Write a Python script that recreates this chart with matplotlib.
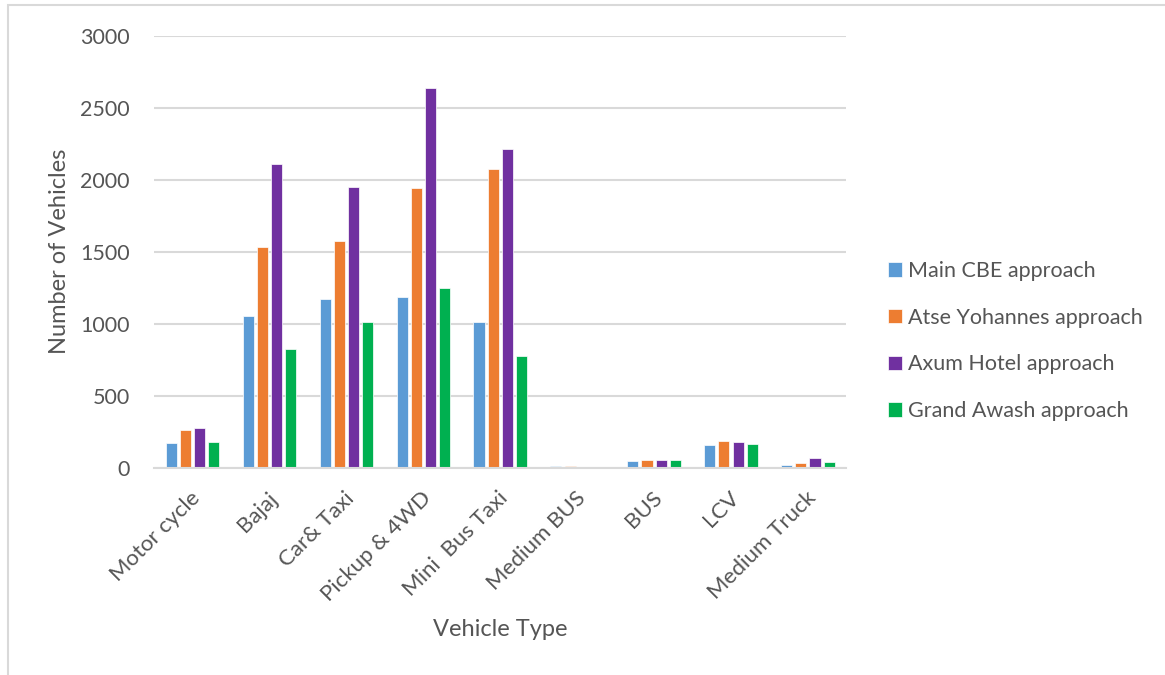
import matplotlib
matplotlib.use("Agg")
import matplotlib.pyplot as plt
import matplotlib.transforms as mtransforms
import numpy as np

categories = ["Motor cycle", "Bajaj", "Car& Taxi", "Pickup & 4WD", "Mini  Bus Taxi",
              "Medium BUS", "BUS", "LCV", "Medium Truck"]
series_names = ["Main CBE approach", "Atse Yohannes approach",
                "Axum Hotel approach", "Grand Awash approach"]
main_cbe = [173, 1055, 1175, 1185, 1013, 12, 46, 160, 23]
atse_yohannes = [264, 1532, 1573, 1943, 2077, 12, 53, 190, 37]
axum_hotel = [278, 2108, 1952, 2637, 2212, 9, 55, 178, 69]
grand_awash = [180, 826, 1011, 1249, 780, 9, 53, 164, 42]
y_ticks = [0, 500, 1000, 1500, 2000, 2500, 3000]

colors = ["#5B9BD5", "#ED7D31", "#7030A0", "#00B050"]
text_color = "#555555"
grid_color = "#D9D9D9"

plt.rcParams["font.family"] = ["Lato", "DejaVu Sans"]
fs = 15.5

fig = plt.figure(figsize=(11.65, 6.75), dpi=100)
ax = fig.add_axes([0.1318, 0.3067, 0.5948, 0.64])

x = np.arange(len(categories))
step = 0.182
width = 0.143
all_series = [main_cbe, atse_yohannes, axum_hotel, grand_awash]
for i, (name, vals) in enumerate(zip(series_names, all_series)):
    ax.bar(x + (i - 1.5) * step, vals, width=width, color=colors[i],
           edgecolor="white", linewidth=0.5, label=name, zorder=3)

ax.set_xlim(-0.5, len(categories) - 0.5)
ax.set_ylim(0, 3000)
ax.set_yticks(y_ticks)
ax.set_yticklabels([str(v) for v in y_ticks], fontsize=fs, color=text_color)
ax.yaxis.grid(True, color=grid_color, linewidth=1.5, zorder=0)
ax.tick_params(axis="y", length=0, pad=17)
ax.tick_params(axis="x", length=0)

for s in ["top", "right", "left"]:
    ax.spines[s].set_visible(False)
ax.spines["bottom"].set_color(grid_color)
ax.spines["bottom"].set_linewidth(1.5)
ax.spines["bottom"].set_zorder(4)

ax.set_xticks(x)
ax.set_xticklabels([])
offset = mtransforms.ScaledTranslation(0.05, -0.27, fig.dpi_scale_trans)
for xi, lab in zip(x, categories):
    ax.text(xi, 0, lab, rotation=45, ha="right", va="center",
            rotation_mode="anchor", fontsize=16, color=text_color,
            transform=ax.transData + offset, clip_on=False)

fig.text(60 / 1165, 1 - 251 / 675, "Number of Vehicles", rotation=90,
         ha="center", va="center", fontsize=17, color=text_color)
fig.text(500 / 1165, 1 - 630 / 675, "Vehicle Type",
         ha="center", va="center", fontsize=17, color=text_color)

handles, labels = ax.get_legend_handles_labels()
leg = fig.legend(handles, labels, loc="center left",
                 bbox_to_anchor=(888 / 1165, 1 - 341 / 675), frameon=False,
                 borderpad=0, borderaxespad=0,
                 fontsize=fs, labelcolor=text_color, handlelength=0.65,
                 handleheight=0.65, handletextpad=0.3, labelspacing=1.24)

border = plt.Rectangle((8 / 1165, -0.01), 1.2, 1 - 5 / 675 + 0.01,
                       transform=fig.transFigure, fill=False,
                       edgecolor=grid_color, linewidth=1.5)
fig.add_artist(border)

fig.savefig("out.png", dpi=100)
